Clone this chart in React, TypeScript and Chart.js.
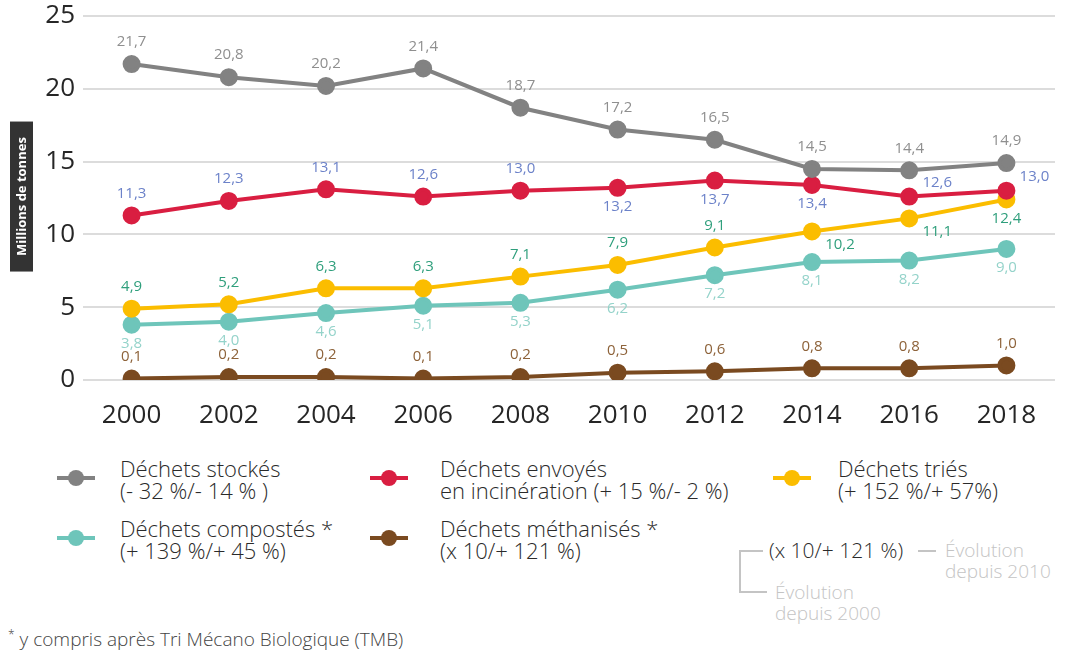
import React, { useEffect, useRef } from "react";
import { Chart, registerables } from "chart.js";

Chart.register(...registerables);

const years = ["2000", "2002", "2004", "2006", "2008", "2010", "2012", "2014", "2016", "2018"];
const stockes = [21.7, 20.8, 20.2, 21.4, 18.7, 17.2, 16.5, 14.5, 14.4, 14.9];
const incineration = [11.3, 12.3, 13.1, 12.6, 13.0, 13.2, 13.7, 13.4, 12.6, 13.0];
const tries = [4.9, 5.2, 6.3, 6.3, 7.1, 7.9, 9.1, 10.2, 11.1, 12.4];
const compostes = [3.8, 4.0, 4.6, 5.1, 5.3, 6.2, 7.2, 8.1, 8.2, 9.0];
const methanises = [0.1, 0.2, 0.2, 0.1, 0.2, 0.5, 0.6, 0.8, 0.8, 1.0];
const yTicks = [0, 5, 10, 15, 20, 25];

const FONT = "'Open Sans', 'DejaVu Sans', sans-serif";

// label placement per point: a = above, b = below, ra = right-above, rb = right-below
const seriesDefs = [
  { label: "Déchets stockés", data: stockes, color: "#828282", labelColor: "#8f8f8f", place: Array(10).fill("a") },
  { label: "Déchets envoyés en incinération", data: incineration, color: "#d91e41", labelColor: "#6c82c9", place: ["a", "a", "a", "a", "a", "b", "b", "b", "ra", "ra"] },
  { label: "Déchets triés", data: tries, color: "#fbbd00", labelColor: "#2f9f7c", place: ["a", "a", "a", "a", "a", "a", "a", "rb", "rb", "b"] },
  { label: "Déchets compostés", data: compostes, color: "#6ec5ba", labelColor: "#94d3ca", place: Array(10).fill("b") },
  { label: "Déchets méthanisés", data: methanises, color: "#7a4a20", labelColor: "#8d6239", place: Array(10).fill("a") },
];

const fmt = (v: number) => v.toFixed(1).replace(".", ",");

const labelPlugin = {
  id: "pointLabels",
  afterDatasetsDraw(chart: any) {
    const ctx = chart.ctx;
    ctx.save();
    ctx.font = `15px ${FONT}`;
    ctx.textAlign = "center";
    ctx.textBaseline = "middle";
    seriesDefs.forEach((s, di) => {
      const meta = chart.getDatasetMeta(di);
      meta.data.forEach((pt: any, i: number) => {
        const p = s.place[i];
        let x = pt.x;
        let y = pt.y;
        if (p === "a") y -= 22;
        else if (p === "b") y += 19;
        else if (p === "ra") { x += 28; y -= 14; }
        else if (p === "rb") { x += 28; y += 13; }
        ctx.fillStyle = s.labelColor;
        ctx.fillText(fmt(s.data[i]), x, y);
      });
    });
    ctx.restore();
  },
  afterDraw(chart: any) {
    const ctx = chart.ctx;
    const yScale = chart.scales.y;
    const cy = yScale.getPixelForValue(12.6);
    ctx.save();
    ctx.fillStyle = "#333333";
    ctx.fillRect(10, cy - 75, 23, 150);
    ctx.translate(21.5, cy);
    ctx.rotate(-Math.PI / 2);
    ctx.fillStyle = "#ffffff";
    ctx.font = `bold 13px ${FONT}`;
    ctx.textAlign = "center";
    ctx.textBaseline = "middle";
    ctx.fillText("Millions de tonnes", 0, 1);
    ctx.restore();
  },
};

function Marker({ color }: { color: string }) {
  return (
    <div style={{ position: "relative", width: 38, height: 18 }}>
      <div style={{ position: "absolute", left: 0, top: 7, width: 38, height: 4, background: color }} />
      <div style={{ position: "absolute", left: 11, top: 1, width: 16, height: 16, borderRadius: 8, background: color }} />
    </div>
  );
}

const legendItems = [
  { color: "#828282", lines: ["Déchets stockés", "(- 32 %/- 14 % )"], mx: 57, tx: 120, y: 457 },
  { color: "#d91e41", lines: ["Déchets envoyés", "en incinération (+ 15 %/- 2 %)"], mx: 370, tx: 440, y: 457 },
  { color: "#fbbd00", lines: ["Déchets triés", "(+ 152 %/+ 57%)"], mx: 773, tx: 838, y: 457 },
  { color: "#6ec5ba", lines: ["Déchets compostés *", "(+ 139 %/+ 45 %)"], mx: 57, tx: 120, y: 517 },
  { color: "#7a4a20", lines: ["Déchets méthanisés *", "(x 10/+ 121 %)"], mx: 370, tx: 440, y: 517 },
];

export default function App() {
  const ref = useRef<HTMLCanvasElement>(null);

  useEffect(() => {
    if (!ref.current) return;
    const chart = new Chart(ref.current, {
      type: "line",
      data: {
        labels: years,
        datasets: seriesDefs.map((s) => ({
          label: s.label,
          data: s.data,
          borderColor: s.color,
          backgroundColor: s.color,
          pointBackgroundColor: s.color,
          pointBorderColor: s.color,
          borderWidth: 4,
          pointRadius: 7,
          tension: 0,
        })),
      },
      options: {
        animation: false,
        responsive: false,
        maintainAspectRatio: false,
        layout: { padding: { top: 16, right: 16, left: 0, bottom: 0 } },
        plugins: { legend: { display: false }, tooltip: { enabled: false } },
        scales: {
          x: {
            offset: true,
            grid: { display: false },
            border: { display: false },
            ticks: { color: "#262626", font: { family: FONT, size: 26 }, padding: 12 },
            afterFit: (axis: any) => { axis.height = 60; axis.paddingLeft = 0; axis.paddingRight = 0; },
          },
          y: {
            min: 0,
            max: 25,
            afterBuildTicks: (axis: any) => { axis.ticks = yTicks.map((v) => ({ value: v })); },
            grid: { color: "#dcdcdc", lineWidth: 2, drawTicks: false },
            border: { display: false },
            ticks: { color: "#262626", font: { family: FONT, size: 26 }, padding: 8 },
            afterFit: (axis: any) => { axis.width = 83; axis.paddingTop = 0; axis.paddingBottom = 0; },
          },
        },
      },
      plugins: [labelPlugin],
    });
    return () => chart.destroy();
  }, []);

  const textStyle: React.CSSProperties = {
    fontFamily: FONT,
    fontSize: 22,
    fontWeight: 300,
    lineHeight: "22px",
    color: "#2a2a2a",
    position: "absolute",
    whiteSpace: "nowrap",
  };
  const grey = "#c4c4c4";
  const greyText: React.CSSProperties = { ...textStyle, fontSize: 19, lineHeight: "21px", color: grey };

  return (
    <div style={{ position: "absolute", left: 0, top: 0, width: 1071, height: 650, background: "#fff", overflow: "hidden" }}>
      <canvas ref={ref} width={1071} height={440} style={{ position: "absolute", left: 0, top: 0 }} />
      {legendItems.map((it, i) => (
        <React.Fragment key={i}>
          <div style={{ position: "absolute", left: it.mx, top: it.y + 12 }}>
            <Marker color={it.color} />
          </div>
          <div style={{ ...textStyle, left: it.tx, top: it.y }}>
            {it.lines[0]}
            <br />
            {it.lines[1]}
          </div>
        </React.Fragment>
      ))}
      <div style={{ ...textStyle, left: 769, top: 539, fontSize: 21 }}>(x 10/+ 121 %)</div>
      <div style={{ position: "absolute", left: 918, top: 550, width: 18, height: 2, background: grey }} />
      <div style={{ ...greyText, left: 945, top: 540 }}>
        Évolution
        <br />
        depuis 2010
      </div>
      <div style={{ position: "absolute", left: 739, top: 550, width: 2, height: 43, background: grey }} />
      <div style={{ position: "absolute", left: 739, top: 550, width: 24, height: 2, background: grey }} />
      <div style={{ position: "absolute", left: 739, top: 591, width: 28, height: 2, background: grey }} />
      <div style={{ ...greyText, left: 775, top: 582 }}>
        Évolution
        <br />
        depuis 2000
      </div>
      <div style={{ ...textStyle, left: 8, top: 624, fontSize: 19, fontWeight: 300, color: "#444" }}>
        <sup style={{ fontSize: 12 }}>*</sup> y compris après Tri Mécano Biologique (TMB)
      </div>
    </div>
  );
}
